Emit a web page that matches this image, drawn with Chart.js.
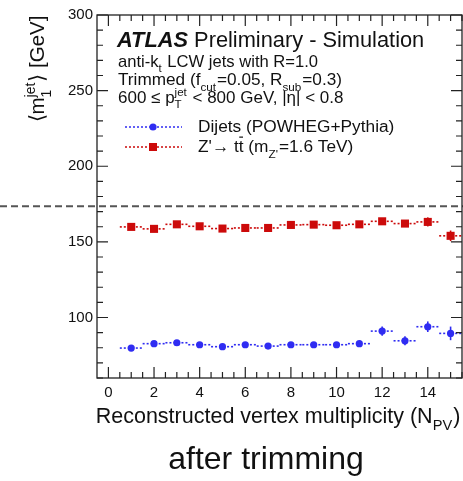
<!DOCTYPE html>
<html>
<head>
<meta charset="utf-8">
<script src="https://cdn.jsdelivr.net/npm/chart.js@4.4.1/dist/chart.umd.min.js"></script>
<style>
  body { margin: 0; background: #fff; }
  canvas { display: block; }
</style>
</head>
<body>
<canvas id="grafik" width="463" height="481"></canvas>
<script>
// data
const nPV = [1, 2, 3, 4, 5, 6, 7, 8, 9, 10, 11, 12, 13, 14, 15];
const massaDijet = [79.8, 82.7, 83.3, 82.0, 80.7, 82.0, 81.1, 82.0, 82.0, 82.0, 82.7, 91.0, 84.6, 93.9, 89.5];
const galatDijet = [0.8, 0.8, 0.8, 0.8, 0.8, 0.8, 0.8, 0.8, 0.8, 0.8, 0.9, 3.0, 3.0, 3.5, 4.5];
const massaZprime = [159.9, 158.6, 161.6, 160.3, 158.8, 159.2, 159.2, 161.2, 161.4, 161.0, 161.6, 163.6, 162.1, 163.2, 154.0];
const galatZprime = [1.0, 1.0, 1.0, 1.0, 1.0, 1.0, 1.0, 1.0, 1.0, 1.0, 1.0, 1.5, 1.5, 3.0, 3.5];
const massaTop = 173.5;
const labelSumbuY = [100, 150, 200, 250, 300];
const labelSumbuX = [0, 2, 4, 6, 8, 10, 12, 14];

const FONT = '"Liberation Sans", Arial, Helvetica, sans-serif';
const BIRU = '#2f2cf2';
const MERAH = '#cc0a0a';

function aturFont(ctx, px, gaya) {
  ctx.font = (gaya || '') + ' ' + px + 'px ' + FONT;
}

// lebar satu potongan teks
function lebarPotongan(ctx, p, px) {
  if (typeof p === 'string') { aturFont(ctx, px); return ctx.measureText(p).width; }
  if (p.t !== undefined) { aturFont(ctx, px, p.gaya); return ctx.measureText(p.t).width; }
  aturFont(ctx, px * 0.68);
  const a = p.sup ? ctx.measureText(p.sup).width : 0;
  const b = p.sub ? ctx.measureText(p.sub).width : 0;
  return Math.max(a, b) + 1;
}

// teks dengan subskrip / superskrip
function tulisKaya(ctx, bagian, x, y, px, rata) {
  const total = bagian.reduce((s, p) => s + lebarPotongan(ctx, p, px), 0);
  if (rata === 'center') x -= total / 2;
  ctx.textAlign = 'left';
  ctx.textBaseline = 'alphabetic';
  for (const p of bagian) {
    const w = lebarPotongan(ctx, p, px);
    if (typeof p === 'string') {
      aturFont(ctx, px); ctx.fillText(p, x, y);
    } else if (p.t !== undefined) {
      aturFont(ctx, px, p.gaya); ctx.fillText(p.t, x, y);
      if (p.garis) {
        ctx.save(); ctx.lineWidth = 1.2; ctx.strokeStyle = ctx.fillStyle;
        ctx.beginPath(); ctx.moveTo(x + 0.5, y - px * 0.86); ctx.lineTo(x + w - 0.5, y - px * 0.86); ctx.stroke();
        ctx.restore();
      }
    } else {
      aturFont(ctx, px * 0.68);
      if (p.sup) ctx.fillText(p.sup, x, y - px * 0.42);
      if (p.sub) ctx.fillText(p.sub, x, y + px * 0.32);
    }
    x += w;
  }
}

function penanda(ctx, jenis, x, y, warna) {
  ctx.fillStyle = warna;
  ctx.beginPath();
  if (jenis === 'rect') ctx.rect(x - 4, y - 4, 8, 8);
  else ctx.arc(x, y, 3.6, 0, Math.PI * 2);
  ctx.fill();
}

const pluginGalat = {
  id: 'galat',
  beforeDatasetsDraw(chart) {
    const ctx = chart.ctx;
    const sx = chart.scales.x, sy = chart.scales.y;
    // garis putus-putus massa top
    ctx.save();
    ctx.strokeStyle = '#555';
    ctx.lineWidth = 2;
    ctx.setLineDash([7, 4]);
    const yt = sy.getPixelForValue(massaTop);
    ctx.beginPath(); ctx.moveTo(0, yt); ctx.lineTo(chart.width, yt); ctx.stroke();
    ctx.restore();

    const seri = [[massaDijet, galatDijet, BIRU], [massaZprime, galatZprime, MERAH]];
    for (const [nilai, galat, warna] of seri) {
      ctx.save();
      ctx.strokeStyle = warna;
      ctx.lineWidth = 1.6;
      for (let i = 0; i < nPV.length; i++) {
        const py = sy.getPixelForValue(nilai[i]);
        const px = sx.getPixelForValue(nPV[i]);
        ctx.setLineDash([2, 2]);
        ctx.beginPath();
        ctx.moveTo(sx.getPixelForValue(nPV[i] - 0.5), py);
        ctx.lineTo(sx.getPixelForValue(nPV[i] + 0.5), py);
        ctx.stroke();
        ctx.setLineDash([]);
        ctx.beginPath();
        ctx.moveTo(px, sy.getPixelForValue(nilai[i] - galat[i]));
        ctx.lineTo(px, sy.getPixelForValue(nilai[i] + galat[i]));
        ctx.stroke();
      }
      ctx.restore();
    }
  },
  afterDraw(chart) {
    const ctx = chart.ctx;
    const a = chart.chartArea;
    const sx = chart.scales.x, sy = chart.scales.y;
    ctx.save();
    // bingkai
    ctx.strokeStyle = '#222';
    ctx.lineWidth = 1.3;
    ctx.strokeRect(a.left, a.top, a.right - a.left, a.bottom - a.top);
    // tanda tick ke dalam, di keempat sisi
    ctx.lineWidth = 1.2;
    ctx.beginPath();
    for (const t of sy.ticks) {
      const y = sy.getPixelForValue(t.value);
      const p = labelSumbuY.includes(t.value) ? 11 : 6;
      ctx.moveTo(a.left, y); ctx.lineTo(a.left + p, y);
      ctx.moveTo(a.right, y); ctx.lineTo(a.right - p, y);
    }
    for (const t of sx.ticks) {
      if (t.value < 0) continue;
      const x = sx.getPixelForValue(t.value);
      const p = labelSumbuX.includes(t.value) ? 11 : 6;
      ctx.moveTo(x, a.bottom); ctx.lineTo(x, a.bottom - p);
      ctx.moveTo(x, a.top); ctx.lineTo(x, a.top + p);
    }
    ctx.stroke();

    // judul sumbu y (diputar)
    ctx.fillStyle = '#111';
    ctx.save();
    ctx.translate(44, 69);
    ctx.rotate(-Math.PI / 2);
    tulisKaya(ctx, ['\u27E8m', { sup: 'jet', sub: '1' }, '\u27E9 [GeV]'], 0, 0, 20.5, 'center');
    ctx.restore();

    // judul sumbu x
    tulisKaya(ctx, ['Reconstructed vertex multiplicity (N', { sub: 'PV' }, ')'], 278, 423, 21.5, 'center');
    // keterangan bawah
    tulisKaya(ctx, ['after trimming'], 266, 469, 32, 'center');

    // teks di dalam plot
    tulisKaya(ctx, [{ t: 'ATLAS', gaya: 'italic bold' }, ' Preliminary - Simulation'], 117, 47, 21.8);
    tulisKaya(ctx, ['anti-k', { sub: 't' }, ' LCW jets with R=1.0'], 118, 67, 16.6);
    tulisKaya(ctx, ['Trimmed (f', { sub: 'cut' }, '=0.05, R', { sub: 'sub' }, '=0.3)'], 118, 85, 17.2);
    tulisKaya(ctx, ['600 \u2264 p', { sup: 'jet', sub: 'T' }, ' < 800 GeV, |\u03B7| < 0.8'], 118, 103, 17);

    // legenda
    const isi = [[BIRU, 'circle', 127, ['Dijets (POWHEG+Pythia)']],
                 [MERAH, 'rect', 147, ["Z'\u2192 t", { t: 't', garis: true }, ' (m', { sub: "Z'" }, '=1.6 TeV)']]];
    for (const [warna, jenis, yy, teks] of isi) {
      ctx.strokeStyle = warna;
      ctx.lineWidth = 1.6;
      ctx.setLineDash([2, 2]);
      ctx.beginPath(); ctx.moveTo(125, yy); ctx.lineTo(182, yy); ctx.stroke();
      ctx.setLineDash([]);
      penanda(ctx, jenis, 153, yy, warna);
      ctx.fillStyle = '#111';
      tulisKaya(ctx, teks, 198, yy + 5, 17.3);
    }
    ctx.restore();
  }
};

const ctx = document.getElementById('grafik').getContext('2d');
new Chart(ctx, {
  type: 'scatter',
  data: {
    datasets: [
      {
        label: 'Dijets (POWHEG+Pythia)',
        data: nPV.map((x, i) => ({ x: x, y: massaDijet[i] })),
        pointStyle: 'circle',
        pointRadius: 3.6,
        backgroundColor: BIRU,
        borderColor: BIRU,
        borderWidth: 0
      },
      {
        label: "Z' -> tt",
        data: nPV.map((x, i) => ({ x: x, y: massaZprime[i] })),
        pointStyle: 'rect',
        pointRadius: 5.7,
        backgroundColor: MERAH,
        borderColor: MERAH,
        borderWidth: 0
      }
    ]
  },
  options: {
    responsive: false,
    animation: false,
    layout: { autoPadding: false, padding: { left: 0, right: 1, top: 15, bottom: 0 } },
    plugins: { legend: { display: false }, tooltip: { enabled: false } },
    scales: {
      x: {
        type: 'linear',
        min: -0.5,
        max: 15.5,
        grid: { display: false, drawTicks: false },
        border: { display: false },
        ticks: {
          stepSize: 0.5,
          autoSkip: false,
          maxRotation: 0,
          padding: 6,
          color: '#111',
          font: { size: 15, family: FONT },
          callback: v => labelSumbuX.includes(v) ? String(v) : ''
        },
        afterFit: s => { s.height = 103; s.paddingRight = 0; }
      },
      y: {
        min: 60,
        max: 300,
        grid: { display: false, drawTicks: false },
        border: { display: false },
        ticks: {
          stepSize: 10,
          autoSkip: false,
          padding: 4,
          color: '#111',
          font: { size: 15, family: FONT },
          callback: v => labelSumbuY.includes(v) ? String(v) : ''
        },
        afterFit: s => { s.width = 97; }
      }
    }
  },
  plugins: [pluginGalat]
});
</script>
</body>
</html>
